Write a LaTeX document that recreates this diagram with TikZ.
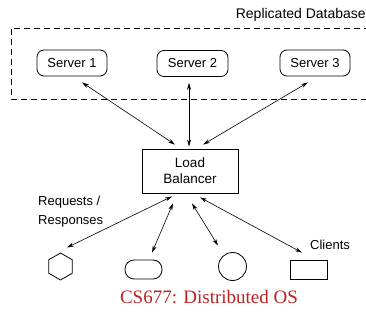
\documentclass[tikz,border=0pt]{standalone}
\usepackage{fontspec}
\setmainfont{Liberation Sans}
\newfontfamily\captionserif{Liberation Serif}
\usetikzlibrary{arrows.meta,shapes.geometric}
\definecolor{captionred}{RGB}{185,35,35}
\begin{document}
\begin{tikzpicture}[x=1pt,y=-1pt,
  lbl/.style={font=\fontsize{13}{15}\selectfont, inner sep=0pt},
  server/.style={draw, rounded corners=7pt, minimum width=70pt, minimum height=26pt,
    inner sep=0pt, line width=0.8pt, lbl},
  link/.style={{Stealth[length=7pt,width=4pt]}-{Stealth[length=7pt,width=4pt]}, line width=0.6pt},
  client/.style={draw, line width=0.8pt, inner sep=0pt}
]
\useasboundingbox (0,0) rectangle (366,320);
\clip (0,0) rectangle (366,320);

% replicated database region
\draw[line width=0.8pt, dash pattern=on 6pt off 4pt] (380,28) -- (11,28) -- (11,99) -- (380,99);
\node[lbl, anchor=east, font=\fontsize{14}{16}\selectfont] (db) at (366,15) {Replicated Database};

% servers
\node[server] (s1) at (72,63) {Server 1};
\node[server, minimum width=71pt] (s2) at (192.5,63.5) {Server 2};
\node[server] (s3) at (315,63) {Server 3};

% load balancer
\node[draw, line width=0.8pt, minimum width=96pt, minimum height=44pt, align=center,
  font=\fontsize{13.5}{16}\selectfont] (lb) at (190,171) {Load\\Balancer};

% clients
\node[client, regular polygon, regular polygon sides=6, shape border rotate=90,
  minimum size=27pt] (hex) at (60.5,266.5) {};
\node[client, rounded corners=9pt, minimum width=37pt, minimum height=19pt] (pill) at (143.5,269.5) {};
\node[client, circle, minimum size=28pt] (circ) at (232.5,266.5) {};
\node[client, minimum width=37pt, minimum height=19pt] (box) at (308.5,269.5) {};

% labels
\node[lbl, anchor=west, align=left, font=\fontsize{13}{19}\selectfont] (req) at (38,212) {Requests /\\Responses};
\node[lbl, anchor=west] (cl) at (310,245) {Clients};

% server links
\draw[link] ([shift={(-15,-4)}]lb.north) -- ([shift={(10,6)}]s1.south);
\draw[link] ([shift={(-1,-2)}]lb.north) -- ([shift={(-3.5,6)}]s2.south);
\draw[link] ([shift={(13,-4)}]lb.north) -- ([shift={(-7,6)}]s3.south);

% client links
\draw[link] ([shift={(-18,3)}]lb.south) -- ([shift={(6.5,-5)}]hex.north);
\draw[link] ([shift={(-17,10)}]lb.south) -- ([shift={(8.5,-7)}]pill.north);
\draw[link] ([shift={(2,10)}]lb.south) -- ([shift={(-14.5,-6.5)}]circ.north);
\draw[link] ([shift={(10,4)}]lb.south) -- ([shift={(-6.5,-7)}]box.north);

% caption
\node[text=captionred, font=\captionserif\fontsize{19}{22}\selectfont] (cap) at (209,297) {CS677: Distributed OS};
\end{tikzpicture}
\end{document}
